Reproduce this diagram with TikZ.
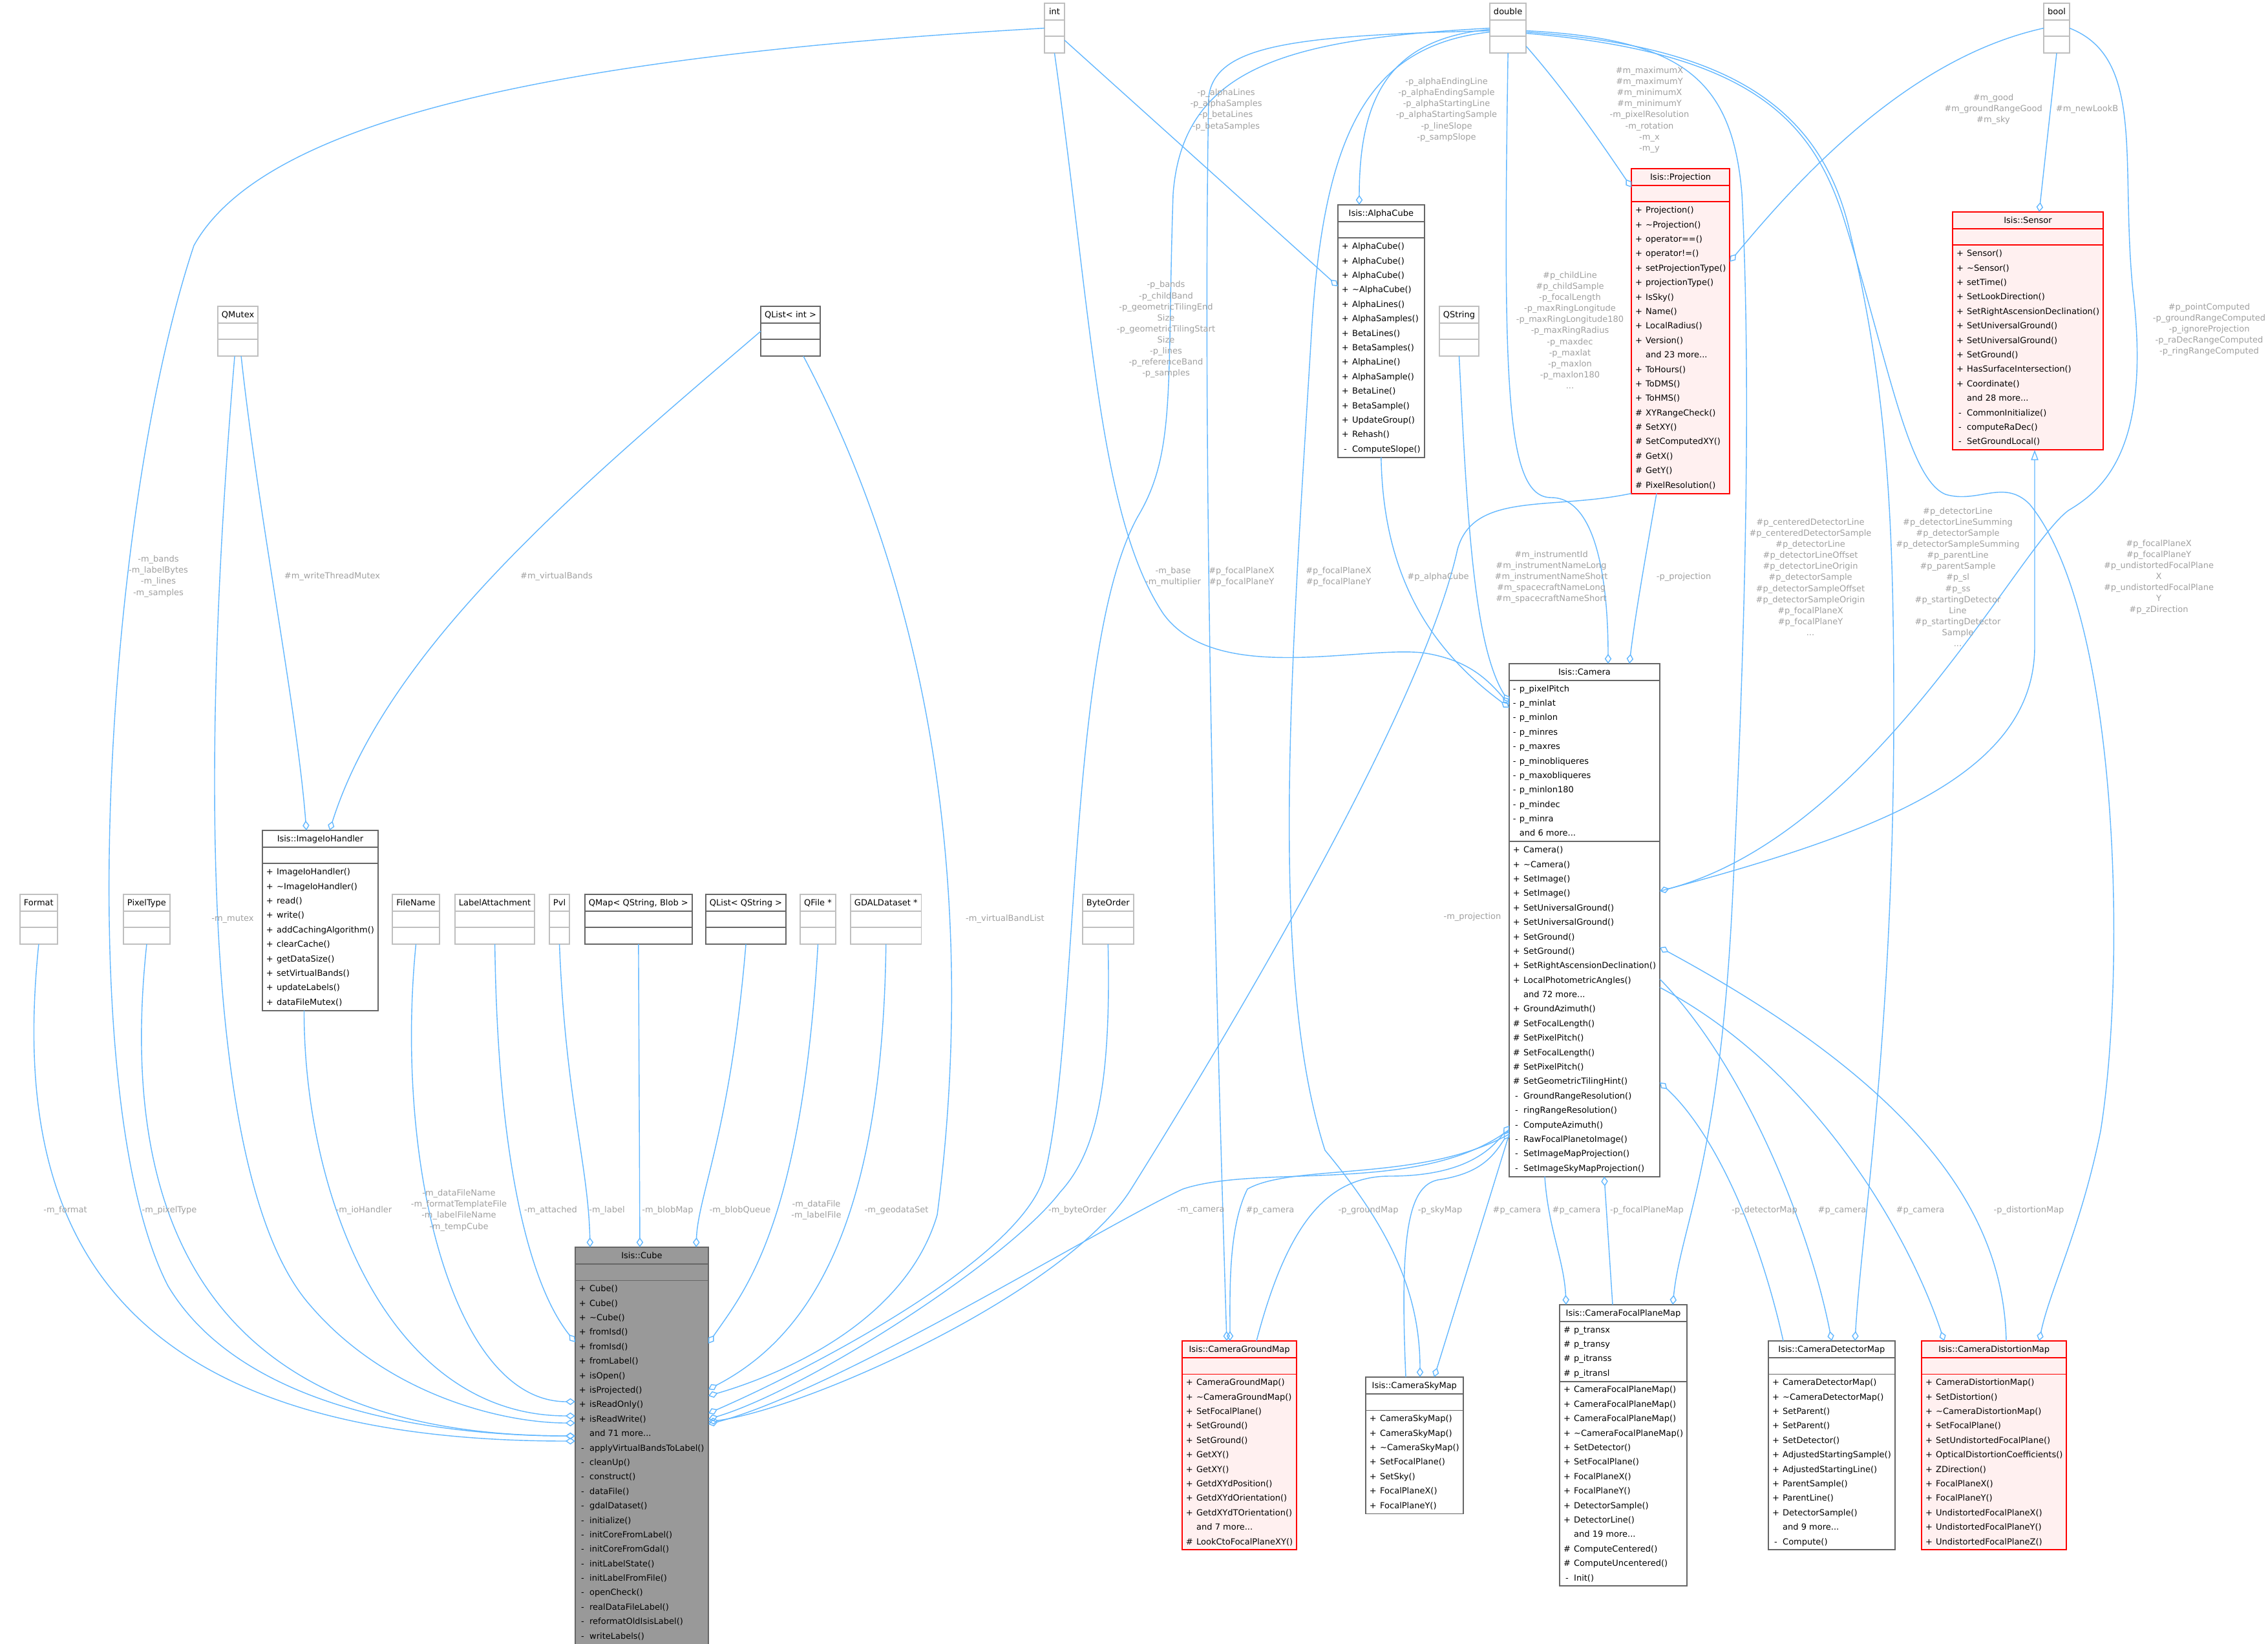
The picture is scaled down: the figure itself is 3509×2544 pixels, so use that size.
\documentclass[tikz,border=0pt]{standalone}
\usepackage{fontspec}
\setmainfont{DejaVu Sans}
\usetikzlibrary{shapes.multipart,arrows.meta,calc}

\definecolor{edgeblue}{HTML}{63B8FF}
\definecolor{lblgrey}{HTML}{A0A0A0}
\definecolor{boxdark}{HTML}{666666}
\definecolor{boxlight}{HTML}{BFBFBF}
\definecolor{focusfill}{HTML}{999999}
\definecolor{warnred}{HTML}{FF0000}
\definecolor{warnfill}{HTML}{FFF0F0}

\newcommand{\umlfont}{\fontsize{3.7}{6.37}\selectfont}
\newcommand{\lblfont}{\fontsize{3.7}{4.87}\selectfont}
\newcommand{\members}[1]{\begin{tabular}{@{}c@{\hspace{1.5pt}}l@{}}#1\end{tabular}}
\newcommand{\extbox}[1]{\strut #1\nodepart{two}\strut\nodepart{three}\strut}

\tikzset{
  cls/.style={rectangle split, rectangle split parts=3,
    rectangle split part align={center,left,left},
    draw=boxdark, fill=white, line width=0.55pt, inner xsep=1.7pt,
    inner ysep=0.2pt, outer sep=0pt, font=\umlfont, anchor=north west},
  extcls/.style={cls, draw=boxlight},
  warncls/.style={cls, draw=warnred, fill=warnfill},
  focuscls/.style={cls, fill=focusfill},
  usage/.style={draw=edgeblue, line width=0.4pt,
    -{Diamond[open, length=4.3pt, width=3pt]}},
  isa/.style={draw=edgeblue, line width=0.4pt,
    -{Triangle[open, length=4.5pt, width=3.2pt]}},
  lbl/.style={text=lblgrey, font=\lblfont, align=center, inner sep=0pt},
}

\begin{document}
\begin{tikzpicture}[x=0.1mm, y=-0.1mm]
\path[use as bounding box, fill=white] (0,0) rectangle (3509,2544);

\node[extcls, minimum width=3.1mm] (tint) at (1616,5) {\extbox{int}};
\node[extcls, minimum width=5.5mm] (tdouble) at (2305,5) {\extbox{double}};
\node[extcls, minimum width=4mm] (tbool) at (3162,5) {\extbox{bool}};
\node[extcls, minimum width=6.2mm] (qmutex) at (337,474) {\extbox{QMutex}};
\node[cls, minimum width=9.2mm] (qlistint) at (1177,474) {\extbox{QList< int >}};
\node[extcls, minimum width=5.9mm] (qstring) at (2227,474) {\extbox{QString}};

\node[cls, minimum width=13.1mm] (alphacube) at (2070,317) {\strut Isis::AlphaCube\nodepart{two}\strut\nodepart{three}\members{
+ & AlphaCube()\\ + & AlphaCube()\\ + & AlphaCube()\\ + & \textasciitilde AlphaCube()\\ + & AlphaLines()\\ + & AlphaSamples()\\
+ & BetaLines()\\ + & BetaSamples()\\ + & AlphaLine()\\ + & AlphaSample()\\ + & BetaLine()\\ + & BetaSample()\\
+ & UpdateGroup()\\ + & Rehash()\\ - & ComputeSlope()}};

\node[warncls, minimum width=15.2mm] (projection) at (2524,261) {\strut Isis::Projection\nodepart{two}\strut\nodepart{three}\members{
+ & Projection()\\ + & \textasciitilde Projection()\\ + & operator==()\\ + & operator!=()\\ + & setProjectionType()\\
+ & projectionType()\\ + & IsSky()\\ + & Name()\\ + & LocalRadius()\\ + & Version()\\ & and 23 more...\\
+ & ToHours()\\ + & ToDMS()\\ + & ToHMS()\\ \# & XYRangeCheck()\\ \# & SetXY()\\ \# & SetComputedXY()\\
\# & GetX()\\ \# & GetY()\\ \# & PixelResolution()}};

\node[warncls, minimum width=23.2mm] (sensor) at (3021,328) {\strut Isis::Sensor\nodepart{two}\strut\nodepart{three}\members{
+ & Sensor()\\ + & \textasciitilde Sensor()\\ + & setTime()\\ + & SetLookDirection()\\ + & SetRightAscensionDeclination()\\
+ & SetUniversalGround()\\ + & SetUniversalGround()\\ + & SetGround()\\ + & HasSurfaceIntersection()\\
+ & Coordinate()\\ & and 28 more...\\ - & CommonInitialize()\\ - & computeRaDec()\\ - & SetGroundLocal()}};

\node[cls, minimum width=23.2mm] (camera) at (2335,1027) {\strut Isis::Camera\nodepart{two}\members{
- & p\_pixelPitch\\ - & p\_minlat\\ - & p\_minlon\\ - & p\_minres\\ - & p\_maxres\\ - & p\_minobliqueres\\
- & p\_maxobliqueres\\ - & p\_minlon180\\ - & p\_mindec\\ - & p\_minra\\ & and 6 more...}\nodepart{three}\members{
+ & Camera()\\ + & \textasciitilde Camera()\\ + & SetImage()\\ + & SetImage()\\ + & SetUniversalGround()\\
+ & SetUniversalGround()\\ + & SetGround()\\ + & SetGround()\\ + & SetRightAscensionDeclination()\\
+ & LocalPhotometricAngles()\\ & and 72 more...\\ + & GroundAzimuth()\\ \# & SetFocalLength()\\
\# & SetPixelPitch()\\ \# & SetFocalLength()\\ \# & SetPixelPitch()\\ \# & SetGeometricTilingHint()\\
- & GroundRangeResolution()\\ - & ringRangeResolution()\\ - & ComputeAzimuth()\\ - & RawFocalPlanetoImage()\\
- & SetImageMapProjection()\\ - & SetImageSkyMapProjection()}};

\node[cls, minimum width=17.8mm] (iohandler) at (406,1285) {\strut Isis::ImageIoHandler\nodepart{two}\strut\nodepart{three}\members{
+ & ImageIoHandler()\\ + & \textasciitilde ImageIoHandler()\\ + & read()\\ + & write()\\ + & addCachingAlgorithm()\\
+ & clearCache()\\ + & getDataSize()\\ + & setVirtualBands()\\ + & updateLabels()\\ + & dataFileMutex()}};

\node[extcls, minimum width=5.7mm] (format) at (31,1384) {\extbox{Format}};
\node[extcls, minimum width=7.1mm] (pixeltype) at (191,1384) {\extbox{PixelType}};
\node[extcls, minimum width=7.3mm] (filename) at (607,1384) {\extbox{FileName}};
\node[extcls, minimum width=12.3mm] (labelatt) at (704,1384) {\extbox{LabelAttachment}};
\node[extcls, minimum width=3.1mm] (pvl) at (850,1384) {\extbox{Pvl}};
\node[cls, minimum width=16.3mm] (blobmap) at (905,1384) {\extbox{QMap< QString, Blob >}};
\node[cls, minimum width=12.2mm] (qliststr) at (1092,1384) {\extbox{QList< QString >}};
\node[extcls, minimum width=5.5mm] (qfile) at (1238,1384) {\extbox{QFile *}};
\node[extcls, minimum width=10.9mm] (gdal) at (1316,1384) {\extbox{GDALDataset *}};
\node[extcls, minimum width=7.7mm] (byteorder) at (1675,1384) {\extbox{ByteOrder}};

\node[focuscls, minimum width=20.6mm] (cube) at (890,1930) {\strut Isis::Cube\nodepart{two}\strut\nodepart{three}\members{
+ & Cube()\\ + & Cube()\\ + & \textasciitilde Cube()\\ + & fromIsd()\\ + & fromIsd()\\ + & fromLabel()\\ + & isOpen()\\
+ & isProjected()\\ + & isReadOnly()\\ + & isReadWrite()\\ & and 71 more...\\ - & applyVirtualBandsToLabel()\\
- & cleanUp()\\ - & construct()\\ - & dataFile()\\ - & gdalDataset()\\ - & initialize()\\ - & initCoreFromLabel()\\
- & initCoreFromGdal()\\ - & initLabelState()\\ - & initLabelFromFile()\\ - & openCheck()\\
- & realDataFileLabel()\\ - & reformatOldIsisLabel()\\ - & writeLabels()}};

\node[warncls, minimum width=17.7mm] (groundmap) at (1829,2075) {\strut Isis::CameraGroundMap\nodepart{two}\strut\nodepart{three}\members{
+ & CameraGroundMap()\\ + & \textasciitilde CameraGroundMap()\\ + & SetFocalPlane()\\ + & SetGround()\\ + & SetGround()\\
+ & GetXY()\\ + & GetXY()\\ + & GetdXYdPosition()\\ + & GetdXYdOrientation()\\ + & GetdXYdTOrientation()\\
& and 7 more...\\ \# & LookCtoFocalPlaneXY()}};

\node[cls, minimum width=14.8mm] (skymap) at (2113,2131) {\strut Isis::CameraSkyMap\nodepart{two}\strut\nodepart{three}\members{
+ & CameraSkyMap()\\ + & CameraSkyMap()\\ + & \textasciitilde CameraSkyMap()\\ + & SetFocalPlane()\\ + & SetSky()\\
+ & FocalPlaneX()\\ + & FocalPlaneY()}};

\node[cls, minimum width=19.7mm] (focalmap) at (2413,2019) {\strut Isis::CameraFocalPlaneMap\nodepart{two}\members{
\# & p\_transx\\ \# & p\_transy\\ \# & p\_itranss\\ \# & p\_itransl}\nodepart{three}\members{
+ & CameraFocalPlaneMap()\\ + & CameraFocalPlaneMap()\\ + & CameraFocalPlaneMap()\\ + & \textasciitilde CameraFocalPlaneMap()\\
+ & SetDetector()\\ + & SetFocalPlane()\\ + & FocalPlaneX()\\ + & FocalPlaneY()\\ + & DetectorSample()\\
+ & DetectorLine()\\ & and 19 more...\\ \# & ComputeCentered()\\ \# & ComputeUncentered()\\ - & Init()}};

\node[cls, minimum width=19.4mm] (detectormap) at (2736,2075) {\strut Isis::CameraDetectorMap\nodepart{two}\strut\nodepart{three}\members{
+ & CameraDetectorMap()\\ + & \textasciitilde CameraDetectorMap()\\ + & SetParent()\\ + & SetParent()\\ + & SetDetector()\\
+ & AdjustedStartingSample()\\ + & AdjustedStartingLine()\\ + & ParentSample()\\ + & ParentLine()\\
+ & DetectorSample()\\ & and 9 more...\\ - & Compute()}};

\node[warncls, minimum width=22.4mm] (distortmap) at (2973,2075) {\strut Isis::CameraDistortionMap\nodepart{two}\strut\nodepart{three}\members{
+ & CameraDistortionMap()\\ + & SetDistortion()\\ + & \textasciitilde CameraDistortionMap()\\ + & SetFocalPlane()\\
+ & SetUndistortedFocalPlane()\\ + & OpticalDistortionCoefficients()\\ + & ZDirection()\\ + & FocalPlaneX()\\
+ & FocalPlaneY()\\ + & UndistortedFocalPlaneX()\\ + & UndistortedFocalPlaneY()\\ + & UndistortedFocalPlaneZ()}};

% members of Isis::Cube
\draw[usage] (format.south) .. controls (20,1850) and (120,2230) .. ($(cube.north west)+(0,300)$);
\draw[usage] (tint.west) .. controls (800,90) and (400,200) .. (300,380) .. controls (160,800) and (110,1700) .. (260,1990) .. controls (380,2190) and (700,2222) .. ($(cube.north west)+(0,292)$);
\draw[usage] (pixeltype.south) .. controls (180,1900) and (330,2222) .. ($(cube.north west)+(0,292)$);
\draw[usage] ($(qmutex.south)+(-5,0)$) .. controls (300,1300) and (330,1850) .. (480,2020) .. controls (600,2160) and (780,2202) .. ($(cube.north west)+(0,272)$);
\draw[usage] ($(iohandler.south)+(-25,0)$) .. controls (470,1850) and (600,2191) .. ($(cube.north west)+(0,261)$);
\draw[usage] (filename.south) .. controls (610,1800) and (700,2169) .. ($(cube.north west)+(0,239)$);
\draw[usage] (labelatt.south) .. controls (770,1800) and (820,1990) .. ($(cube.north west)+(0,147)$);
\draw[usage] (pvl.south) .. controls (875,1700) and (910,1800) .. ($(cube.north west)+(23,0)$);
\draw[usage] (blobmap.south) -- ($(cube.north west)+(100,0)$);
\draw[usage] (qliststr.south) .. controls (1130,1750) and (1080,1850) .. ($(cube.north west)+(187,0)$);
\draw[usage] (qfile.south) .. controls (1240,1900) and (1150,2000) .. ($(cube.north east)+(0,149)$);
\draw[usage] (gdal.south) .. controls (1365,1900) and (1250,2070) .. ($(cube.north east)+(0,220)$);
\draw[usage] ($(qlistint.south)+(20,0)$) .. controls (1480,1000) and (1500,1500) .. (1450,1880) .. controls (1400,2050) and (1200,2130) .. ($(cube.north east)+(0,230)$);
\draw[usage] (tdouble.west) .. controls (2000,60) and (1830,100) .. (1815,300) .. controls (1805,600) and (1820,700) .. (1760,800) .. controls (1650,1000) and (1670,1600) .. (1616,1819) .. controls (1580,1950) and (1250,2120) .. ($(cube.north east)+(0,257)$);
\draw[usage] (byteorder.south) .. controls (1720,1700) and (1690,1790) .. (1640,1845) .. controls (1560,1950) and (1250,2150) .. ($(cube.north east)+(0,266)$);
\draw[usage] (projection.south west) .. controls (2400,790) and (2280,760) .. (2255,850) .. controls (2200,1100) and (1900,1600) .. (1750,1840) .. controls (1650,2000) and (1250,2180) .. ($(cube.north east)+(0,270)$);
\draw[usage] ($(camera.north west)+(0,721)$) .. controls (2200,1850) and (1950,1800) .. (1830,1840) .. controls (1700,1900) and (1300,2150) .. ($(cube.north east)+(0,274)$);

% members of Isis::ImageIoHandler and Isis::AlphaCube
\draw[usage] ($(qmutex.south)+(5,0)$) .. controls (400,800) and (460,1100) .. ($(iohandler.north west)+(68,0)$);
\draw[usage] (qlistint.west) .. controls (900,750) and (600,1000) .. ($(iohandler.north west)+(104,0)$);
\draw[usage] ($(tint.south east)+(0,-20)$) -- ($(alphacube.north west)+(0,126)$);
\draw[usage] ($(tdouble.west)+(0,2)$) .. controls (2150,60) and (2103,150) .. ($(alphacube.north west)+(33,0)$);

% members of Isis::Projection and Isis::Sensor
\draw[usage] ($(tdouble.east)+(0,28)$) .. controls (2430,150) and (2490,240) .. ($(projection.north west)+(0,29)$);
\draw[usage] (tbool.west) .. controls (2950,90) and (2780,280) .. ($(projection.north east)+(0,144)$);
\draw[usage] (tbool.south) -- ($(sensor.north west)+(134,0)$);
\draw[isa] ($(camera.north east)+(0,352)$) .. controls (2900,1290) and (3148,1200) .. (3148,1000) -- ($(sensor.south west)+(127,0)$);

% members of Isis::Camera
\draw[usage] (tbool.east) .. controls (3320,90) and (3280,250) .. (3300,450) .. controls (3330,700) and (3250,760) .. (3200,790) .. controls (3120,850) and (2900,1290) .. ($(camera.north east)+(0,352)$);
\draw[usage] (tint.south) .. controls (1690,500) and (1700,800) .. (1800,950) .. controls (1880,1060) and (2100,1000) .. (2200,1010) .. controls (2270,1020) and (2300,1050) .. ($(camera.north west)+(0,63)$);
\draw[usage] (alphacube.south) .. controls (2140,900) and (2220,1010) .. ($(camera.north west)+(0,68)$);
\draw[usage] (qstring.south) .. controls (2270,800) and (2280,1000) .. ($(camera.north west)+(0,60)$);
\draw[usage] (tdouble.south) .. controls (2325,600) and (2330,770) .. (2400,770) .. controls (2470,770) and (2488,900) .. ($(camera.north west)+(153,0)$);
\draw[usage] ($(projection.south west)+(39,0)$) .. controls (2548,850) and (2530,950) .. ($(camera.north west)+(186,0)$);
\draw[usage] ($(groundmap.north west)+(115,0)$) .. controls (1990,1900) and (2050,1820) .. (2150,1820) .. controls (2250,1820) and (2300,1790) .. ($(camera.north west)+(0,715)$);
\draw[usage] ($(skymap.north west)+(62,0)$) .. controls (2165,1900) and (2180,1830) .. (2230,1825) .. controls (2290,1815) and (2310,1790) .. ($(camera.north west)+(0,724)$);
\draw[usage] ($(focalmap.north west)+(82,0)$) -- ($(camera.south west)+(147,0)$);
\draw[usage] ($(detectormap.north west)+(23,0)$) .. controls (2720,1900) and (2650,1750) .. ($(camera.north east)+(0,648)$);
\draw[usage] ($(distortmap.north west)+(131,0)$) .. controls (3100,1900) and (3000,1700) .. ($(camera.north east)+(0,439)$);

% members of the camera maps
\draw[usage] ($(camera.north west)+(0,728)$) .. controls (2200,1830) and (2000,1800) .. (1930,1840) .. controls (1900,1900) and (1903,2000) .. ($(groundmap.north west)+(74,0)$);
\draw[usage] ($(tdouble.west)+(0,4)$) .. controls (2000,55) and (1880,70) .. (1870,150) .. controls (1860,700) and (1880,1500) .. ($(groundmap.north west)+(69,0)$);
\draw[usage] ($(tdouble.west)+(0,6)$) .. controls (2120,70) and (2050,200) .. (2030,500) .. controls (2000,1000) and (1960,1500) .. (2050,1780) .. controls (2150,1900) and (2197,2000) .. ($(skymap.north west)+(84,0)$);
\draw[usage] ($(camera.north west)+(0,728)$) -- ($(skymap.north west)+(106,0)$);
\draw[usage] ($(camera.south west)+(55,0)$) .. controls (2395,1900) and (2420,1950) .. ($(focalmap.north west)+(10,0)$);
\draw[usage] ($(tdouble.east)+(0,4)$) .. controls (2600,60) and (2680,120) .. (2695,300) .. controls (2710,600) and (2700,1000) .. (2680,1400) .. controls (2660,1800) and (2600,1900) .. ($(focalmap.north west)+(175,0)$);
\draw[usage] ($(camera.north east)+(0,488)$) .. controls (2700,1650) and (2800,1900) .. ($(detectormap.north west)+(98,0)$);
\draw[usage] ($(tdouble.east)+(0,6)$) .. controls (2650,70) and (2810,150) .. (2860,350) .. controls (2920,600) and (2930,800) .. (2930,1100) .. controls (2930,1600) and (2880,1900) .. ($(detectormap.north west)+(134,0)$);
\draw[usage] ($(camera.north east)+(0,501)$) .. controls (2800,1650) and (2950,1900) .. ($(distortmap.north west)+(35,0)$);
\draw[usage] ($(tdouble.east)+(0,8)$) .. controls (2700,80) and (2800,180) .. (2850,330) .. controls (2920,550) and (2950,740) .. (3010,765) .. controls (3060,780) and (3100,740) .. (3140,780) .. controls (3280,950) and (3290,1500) .. (3250,1750) .. controls (3220,1900) and (3170,2000) .. ($(distortmap.north west)+(182,0)$);

% edge labels
\node[lbl] (lbands) at (245,892) {-m\_bands\\-m\_labelBytes\\-m\_lines\\-m\_samples};
\node[lbl] (lwmutex) at (514,892) {\#m\_writeThreadMutex};
\node[lbl] (lvbands) at (861,892) {\#m\_virtualBands};
\node[lbl] (lalpha) at (1897,170) {-p\_alphaLines\\-p\_alphaSamples\\-p\_betaLines\\-p\_betaSamples};
\node[lbl] (lalphaend) at (2238,170) {-p\_alphaEndingLine\\-p\_alphaEndingSample\\-p\_alphaStartingLine\\-p\_alphaStartingSample\\-p\_lineSlope\\-p\_sampSlope};
\node[lbl] (lmaxx) at (2552,170) {\#m\_maximumX\\\#m\_maximumY\\\#m\_minimumX\\\#m\_minimumY\\-m\_pixelResolution\\-m\_rotation\\-m\_x\\-m\_y};
\node[lbl] (lgood) at (3084,169) {\#m\_good\\\#m\_groundRangeGood\\\#m\_sky};
\node[lbl] (llookb) at (3229,169) {\#m\_newLookB};
\node[lbl] (lpbands) at (1804,510) {-p\_bands\\-p\_childBand\\-p\_geometricTilingEnd\\Size\\-p\_geometricTilingStart\\Size\\-p\_lines\\-p\_referenceBand\\-p\_samples};
\node[lbl] (lchild) at (2429,511) {\#p\_childLine\\\#p\_childSample\\-p\_focalLength\\-p\_maxRingLongitude\\-p\_maxRingLongitude180\\-p\_maxRingRadius\\-p\_maxdec\\-p\_maxlat\\-p\_maxlon\\-p\_maxlon180\\...};
\node[lbl] (lpoint) at (3418,510) {\#p\_pointComputed\\-p\_groundRangeComputed\\-p\_ignoreProjection\\-p\_raDecRangeComputed\\-p\_ringRangeComputed};
\node[lbl] (lbase) at (1815,893) {-m\_base\\-m\_multiplier};
\node[lbl] (lfpground) at (1921,893) {\#p\_focalPlaneX\\\#p\_focalPlaneY};
\node[lbl] (lfpsky) at (2071,893) {\#p\_focalPlaneX\\\#p\_focalPlaneY};
\node[lbl] (lalphacube) at (2225,893) {\#p\_alphaCube};
\node[lbl] (linstr) at (2400,893) {\#m\_instrumentId\\\#m\_instrumentNameLong\\\#m\_instrumentNameShort\\\#m\_spacecraftNameLong\\\#m\_spacecraftNameShort};
\node[lbl] (lpproj) at (2605,893) {-p\_projection};
\node[lbl] (lcentered) at (2801,893) {\#p\_centeredDetectorLine\\\#p\_centeredDetectorSample\\\#p\_detectorLine\\\#p\_detectorLineOffset\\\#p\_detectorLineOrigin\\\#p\_detectorSample\\\#p\_detectorSampleOffset\\\#p\_detectorSampleOrigin\\\#p\_focalPlaneX\\\#p\_focalPlaneY\\...};
\node[lbl] (ldetline) at (3029,893) {\#p\_detectorLine\\\#p\_detectorLineSumming\\\#p\_detectorSample\\\#p\_detectorSampleSumming\\\#p\_parentLine\\\#p\_parentSample\\\#p\_sl\\\#p\_ss\\\#p\_startingDetector\\Line\\\#p\_startingDetector\\Sample\\...};
\node[lbl] (lundist) at (3340,893) {\#p\_focalPlaneX\\\#p\_focalPlaneY\\\#p\_undistortedFocalPlane\\X\\\#p\_undistortedFocalPlane\\Y\\\#p\_zDirection};
\node[lbl] (lmutex) at (360,1422) {-m\_mutex};
\node[lbl] (lvblist) at (1555,1422) {-m\_virtualBandList};
\node[lbl] (lmproj) at (2278,1419) {-m\_projection};
\node[lbl] (lfilename) at (710,1873) {-m\_dataFileName\\-m\_formatTemplateFile\\-m\_labelFileName\\-m\_tempCube};
\node[lbl] (ldatafile) at (1263,1873) {-m\_dataFile\\-m\_labelFile};
\foreach \x/\name in {101/-m\_format, 262/-m\_pixelType, 563/-m\_ioHandler, 852/-m\_attached, 939/-m\_label,
    1033/-m\_blobMap, 1145/-m\_blobQueue, 1387/-m\_geodataSet, 1667/-m\_byteOrder, 1858/-m\_camera,
    1965/\#p\_camera, 2117/-p\_groundMap, 2228/-p\_skyMap, 2347/\#p\_camera, 2439/\#p\_camera,
    2548/-p\_focalPlaneMap, 2730/-p\_detectorMap, 2850/\#p\_camera, 2971/\#p\_camera, 3139/-p\_distortionMap}
  \node[lbl] (l\x) at (\x,1873) {\name};
\end{tikzpicture}
\end{document}
